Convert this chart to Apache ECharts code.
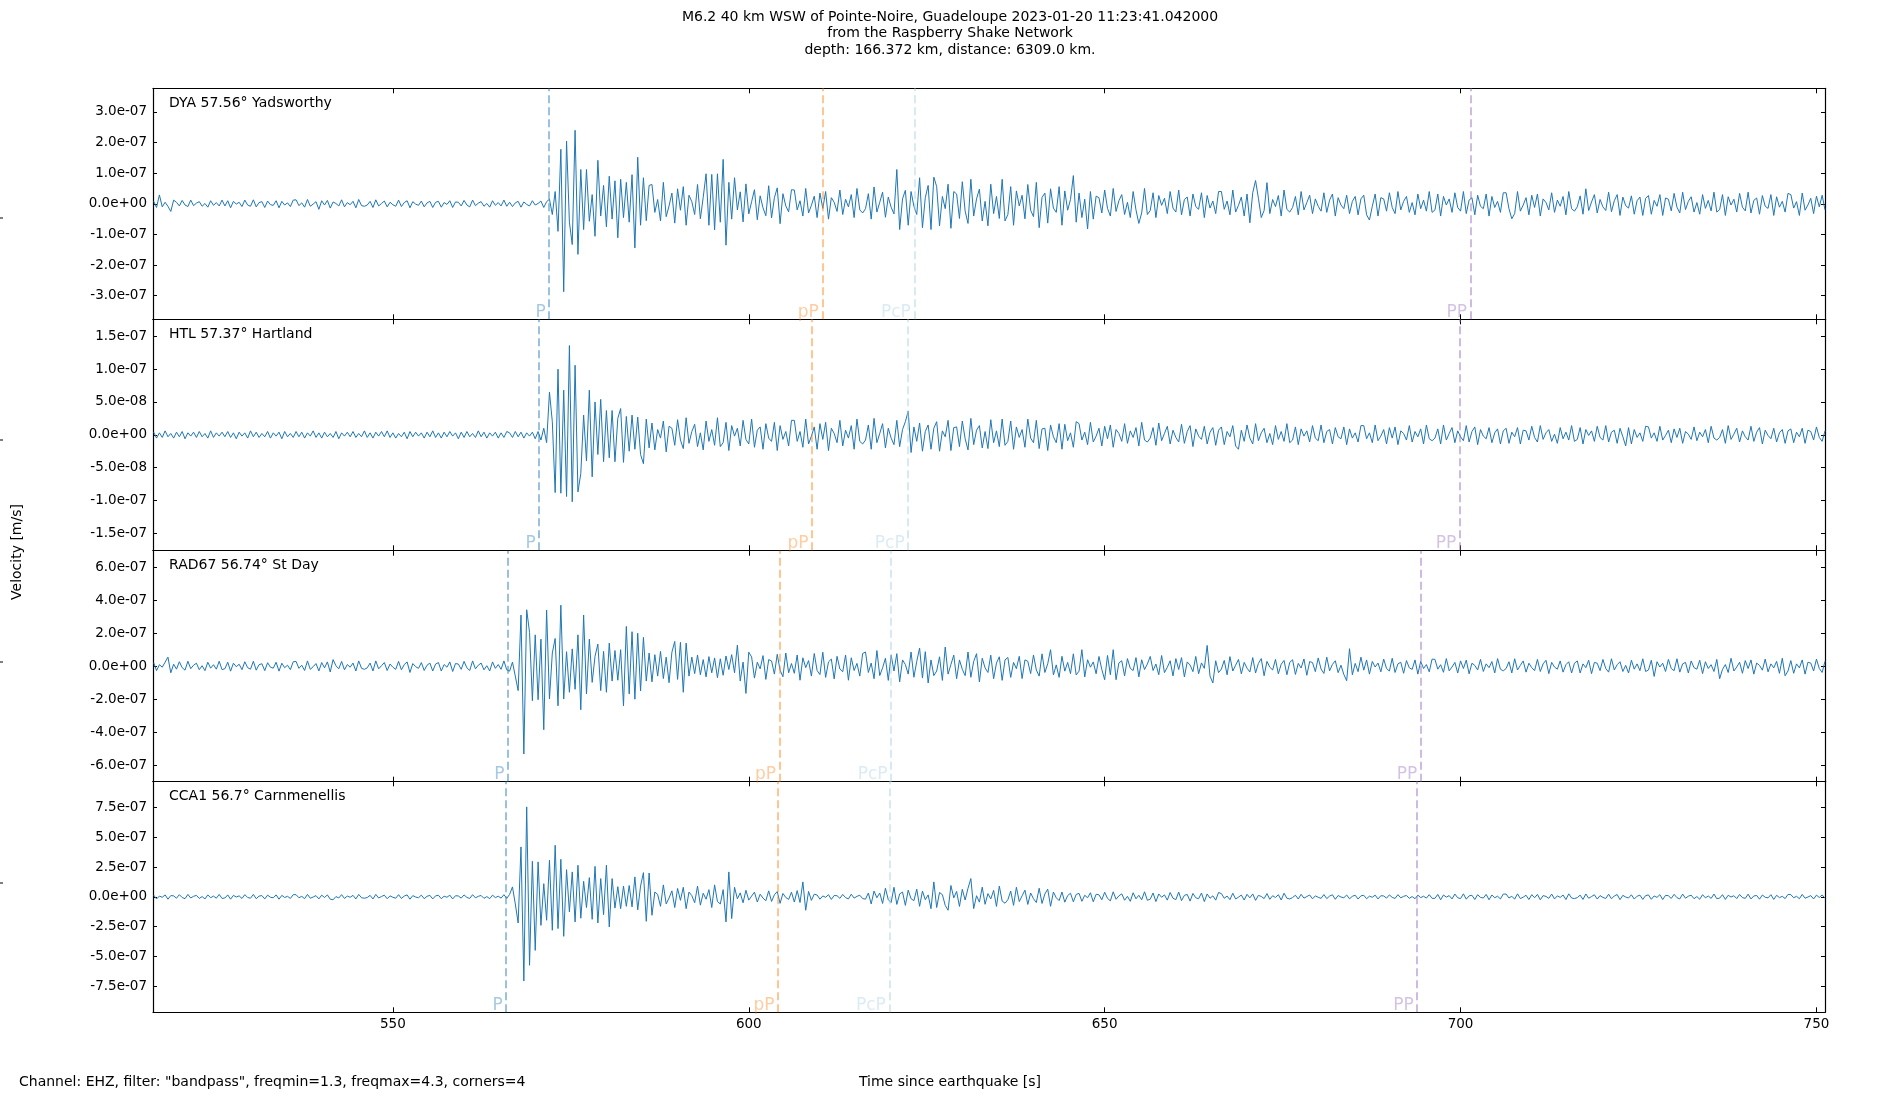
<!DOCTYPE html>
<html>
<head>
<meta charset="utf-8">
<script src="https://cdn.jsdelivr.net/npm/echarts@6/dist/echarts.min.js"></script>
<style>
  html, body { margin: 0; padding: 0; background: #fff; }
  #chart { width: 1900px; height: 1100px; }
</style>
</head>
<body>
<div id="chart"></div>
<script>
'use strict';

// time base of the traces (seconds since the earthquake)
var T0 = 516.4;
var DT = 0.4;
var XMIN = 516.3, XMAX = 751.2;
var xTicks = [550, 600, 650, 700, 750];

var stations = ['DYA 57.56\u00b0 Yadsworthy', 'HTL 57.37\u00b0 Hartland', 'RAD67 56.74\u00b0 St Day', 'CCA1 56.7\u00b0 Carnmenellis'];

// vertical velocity, nm/s, one row = 10 s
var dya = [
  8, -12, 29, -10, 5, -8, -25, 12, 5, -7, 11, -4, -9, 12, -6, 2, 7, -8, 1, -11, 10, -5, 4, -7, 12,
  -7, 10, -13, 8, -1, 5, -9, 12, -4, -8, 13, -10, 4, 7, -12, 9, -3, -5, 10, -13, 8, -4, 3, -9, 12,
  13, -6, 3, -11, 14, -8, -1, 7, -18, 10, -4, 11, -14, 6, 1, -7, 13, -10, 4, -3, 8, -13, 14, -6, -8,
  -4, 8, -12, 13, -7, 1, 9, -10, 5, -3, -8, 12, -9, 4, 10, -13, 7, -1, -5, 9, -10, 3, 8, -12, 5,
  8, -11, 4, -2, 10, -12, 6, 5, -7, 11, -4, -10, 12, -6, 2, 7, -8, 1, -11, 10, -5, 4, -7, 12, -8,
  5, -9, 3, 8, -11, 6, -2, -7, 10, -4, 1, 9, -12, 7, 15, -35, 40, -90, 178, -287, 205, -60, -133, 240, -165,
  112, -84, 112, -57, 30, -106, 142, -40, 60, -75, 90, -50, 75, -111, 80, -45, 70, -60, 95, -144, 152, -70, 85, -55, 60,
  63, -28, 14, -56, 70, -42, -7, 35, -63, 49, -21, 56, -70, 28, 7, -35, 63, -49, 21, 98, -70, 96, -85, 98, -60,
  145, -135, 70, -50, 85, -20, 39, -59, 65, -33, 7, 46, -52, 26, -13, -39, 59, -46, 20, 52, -65, 33, -7, -26, 46,
  45, -20, 10, -40, 50, -30, -5, 25, -45, 35, -15, 40, -50, 20, 5, -25, 45, -35, 15, -10, 30, -45, 50, -20, -30,
  -16, 33, -50, 55, -27, 5, 38, -44, 22, -11, -33, 112, -84, 16, 44, -70, 40, -8, -35, 85, -78, 20, 60, -84, 87,
  56, -72, 24, -16, 64, -80, 40, 32, -48, 72, -24, -64, 80, -40, 16, 48, -56, 8, -72, 64, -32, 24, -48, 80, -56,
  -35, 56, -70, 42, -7, 28, -49, 63, -21, -42, 70, -78, 21, 35, -63, 49, -14, -28, 56, -70, 42, -21, 14, 92, -60,
  35, -45, 15, -82, 40, -50, 25, 20, -30, 45, -15, -40, 50, -25, 10, 30, -35, 5, -45, 40, -20, -64, -30, 50, -35,
  -22, 36, -45, 27, -5, 18, -32, 40, -14, -27, 45, -36, 14, 22, -40, 32, -9, -18, 36, -45, 27, -14, 9, -32, 40,
  40, -18, 9, -36, 45, -27, -5, 22, -40, 32, -62, 36, 76, 18, -45, -22, 69, -32, 14, -9, 27, -40, 45, -18, -27,
  -12, 24, -36, 40, -20, 4, 28, -32, 16, -8, -24, 36, -28, 12, 32, -40, 20, -4, -16, 28, -32, 8, 24, -36, 16,
  28, -36, -53, -8, 32, -40, 20, 16, -24, 36, -12, -32, 40, -20, 8, 24, -28, 4, -36, 32, -16, 12, -24, 40, -28,
  -20, 32, -40, 24, -4, 16, -28, 36, -12, -24, 40, -32, 12, 20, -36, 28, -8, -16, 32, -40, 24, -12, 8, -28, 36,
  36, -16, -49, -32, 40, -24, -4, 20, -36, 28, -12, 32, -40, 16, 4, -20, 36, -28, 12, -8, 24, -36, 40, -16, -24,
  -10, 26, -34, 49, -22, 6, 30, -30, 14, -10, -22, 38, -26, 10, 30, -38, 22, -6, -14, 26, -34, 10, 22, -38, 18,
  27, -34, 11, -8, 30, -38, 19, 15, -23, 34, -11, -30, 38, -19, 8, 23, -27, 4, -34, 30, -15, 11, -23, 38, -27,
  -19, 30, -38, 23, -4, 15, -27, 34, -11, -23, 38, -30, 11, 19, -34, 27, -8, -15, 30, -38, 23, -11, 8, -27, 34,
  30, -14, 7, -38, 35, -21, -4, 18, -32, 25, -10, 28, -20
];

var htl = [
  4, -5, 3, -4, 6, -3, 2, -5, 4, -3, 5, -6, 3, -2, 4, -4, 5, -3, 2, -5, 6, -4, 3, -2, 4,
  -3, 5, -4, 3, -6, 4, -2, 3, -5, 6, -3, 4, -4, 2, -3, 5, -5, 3, -2, 4, -6, 5, -3, 2, -4,
  5, -3, 4, -5, 3, -2, 6, -4, 3, -5, 4, -3, 2, -4, 5, -6, 3, -2, 4, -3, 5, -4, 2, -3, 6,
  -4, 3, -5, 4, -2, 5, -3, 6, -4, 3, -5, 2, -3, 4, -6, 5, -3, 4, -2, 3, -5, 4, -3, 6, -4,
  3, -5, 4, -3, 5, -2, 3, -6, 4, -4, 5, -3, 2, -4, 6, -3, 4, -5, 3, -2, 4, -5, 3, -4, 5,
  3, -4, 5, -3, 4, -5, 3, -2, 4, -6, 5, -8, 10, -12, 65, 20, -88, 100, -89, 68, -94, 136, -102, 106, -87,
  -59, 30, -40, 68, -64, 50, -30, 54, -41, 37, -35, 37, -41, 25, 40, -42, 28, -25, 30, -22, 27, -30, -44, 24, -20,
  18, -23, 8, -5, 21, -26, 13, 10, -16, 23, -8, -21, 26, -13, 5, 16, -18, 3, -23, 21, -10, 8, -16, 26, -18,
  -12, 19, -24, 14, -2, 10, -17, 22, -7, -14, 24, -19, 7, 12, -22, 17, -5, -10, 19, -24, 14, -7, 5, -17, 22,
  22, -10, 5, -19, 24, -14, -2, 12, -22, 17, -7, 19, -24, 10, 2, -12, 22, -17, 7, -5, 14, -22, 24, -10, -14,
  -8, 15, -22, 25, -12, 2, 17, -20, 10, -5, -15, 22, -18, 8, 20, 36, -27, 12, -10, 18, -25, 5, 15, -22, 10,
  20, -25, 6, -3, 22, -24, 11, 12, -18, 21, -6, -23, 25, -15, 7, 14, -20, 5, -21, 23, -12, 6, -18, 24, -16,
  -10, 21, -22, 12, -4, 8, -19, 24, -5, -12, 22, -21, 9, 10, -24, 15, -3, -12, 17, -22, 16, -9, 3, -19, 20,
  17, -8, 4, -15, 19, -11, -2, 10, -17, 13, -6, 15, -19, 8, 2, -10, 17, -13, 6, -4, 11, -17, 19, -8, -11,
  -5, 11, -16, 18, -9, 2, 13, -14, 7, -4, -11, 16, -13, 5, 14, -18, 9, -2, -7, 13, -14, 4, 11, -16, 7,
  12, -15, 5, -3, 14, -17, -22, 7, -10, 15, -5, -14, 17, -9, 3, 10, -12, 2, -15, 14, -7, 5, -10, 17, -12,
  -8, 12, -15, 9, -2, 6, -11, 14, -5, -9, 15, -12, 5, 8, -14, 11, -3, -6, 12, -15, 9, -5, 3, -11, 14,
  14, -6, 3, -12, 15, -9, -2, 8, -14, 11, -5, 12, -15, 6, 2, -8, 14, -11, 5, -3, 9, -14, 15, -6, -9,
  -5, 9, -14, 15, -8, 2, 11, -12, 6, -3, -9, 14, -11, 5, 12, -15, 8, -2, -6, 11, -12, 3, 9, -14, 6,
  10, -13, 4, -3, 11, -14, 7, 6, -8, 13, -4, -11, 14, -7, 3, 8, -10, 1, -13, 11, -6, 4, -8, 14, -10,
  -7, 11, -14, 8, -1, 6, -10, 13, -4, -8, 14, -11, 4, 7, -13, 10, -3, -17, 11, -14, 8, -4, 3, -10, 13,
  12, -5, 3, -10, 13, -8, -1, 7, -12, 9, -4, 10, -13, 5, 1, -7, 12, -9, 4, -3, 8, -12, 13, -5, -8,
  -4, 8, -13, 14, -7, 1, 10, -11, 6, -3, -8, 13, -10, 4, 11, -14, 7, -1, -6, 10, -11, 3, 8, -13, 6,
  9, -12, 4, -3, 10, -13, 7, 5, -8, 12, -4, -10, 6
];

var rad67 = [
  21, -27, 9, -6, 24, 55, -40, 12, -18, 27, -9, -24, 30, -15, 6, 18, -21, 3, -27, 24, -12, 9, -18, 30, -21,
  -15, 24, -30, 18, -3, 12, -21, 27, -9, -18, 30, -24, 9, 15, -27, 21, -6, -12, 24, -30, 18, -9, 6, -21, 27,
  29, -13, 6, -26, 32, -19, -3, 16, -29, 22, -10, 26, -35, 40, 3, -16, 29, -22, 10, -6, 19, -29, 32, -13, -19,
  -10, 19, -29, 32, -16, 3, 22, -26, 13, -6, -19, 29, -22, 10, 26, -38, 16, -3, -13, 22, -26, 6, 19, -29, 13,
  22, -29, 10, -6, 26, -32, 16, 13, -19, 29, -10, -26, 32, -16, 6, 19, -22, 3, -29, 26, -13, 10, -19, 32, -22,
  -30, 25, -60, -148, 310, -532, 342, 205, -209, 190, -203, 164, -385, 340, -199, 80, 168, -240, 370, -199, 88, -158, 105, -140, 190,
  -264, 310, -168, 164, -98, 60, 134, -148, 90, -158, 140, -90, 95, -85, 100, -240, 241, -168, 209, -200, 200, -150, 175, -90, 80,
  -95, 70, -60, 90, -75, 55, -100, 85, 150, -80, 145, -158, 140, -60, 55, -45, 68, -52, 40, -65, 58, -40, 50, -70, 45,
  -55, 62, -20, 70, -40, 128, -90, 25, -165, 85, 56, -72, 24, -16, 64, -80, 40, 32, -48, 72, -24, -64, 80, -40, 16,
  -43, 68, -85, 51, -9, 34, -60, 77, -26, -51, 85, -68, 26, 43, -77, 60, -17, -34, 68, -85, 51, -26, 17, -60, 77,
  86, -38, 19, -76, 95, -57, -10, 48, -86, 67, -29, 76, -95, 38, 10, -48, 86, -67, 29, 110, -72, 88, -102, 38, -57,
  -29, 57, -86, 116, -48, 10, 67, -76, 38, -19, -57, 86, -67, 29, 76, -95, 48, -10, -38, 67, -76, 19, 57, -86, 38,
  53, -68, 23, -15, 60, -75, 38, 30, -45, 68, -23, -60, 75, -38, 15, 100, -53, 8, -68, 60, -30, 23, -45, 75, -53,
  -30, 100, -65, 39, -6, 26, -46, 59, -20, -82, 65, -52, 100, -82, 20, 33, -59, 46, -13, -26, 52, -65, 39, -20, 13,
  59, -26, 13, -52, 65, -39, -7, 33, -59, 46, -20, 52, -65, 26, 7, -33, 59, -46, 20, -13, 126, -60, -102, 33, -39,
  -17, 35, -52, 58, -29, 6, 41, -46, 23, -12, -35, 52, -41, 17, 46, -58, 29, -6, -23, 41, -46, 12, 35, -52, 23,
  39, -50, 17, -11, 44, -55, 28, 22, -33, 50, -17, -44, 55, -28, 11, 33, -39, 6, -50, -88, 106, -52, 17, -33, 55,
  -24, 38, -48, 29, -5, 19, -34, 43, -14, -29, 48, -38, 14, 24, -43, 34, -10, -19, 38, -48, 29, -14, 10, -34, 43,
  41, -18, 9, -37, 46, -28, -5, 23, -41, 32, -14, 37, -46, 18, 5, -23, 41, -32, 14, -9, 28, -41, 46, -18, -28,
  -14, 27, -41, 45, -23, 5, 32, -36, 18, -9, -27, 41, -32, 14, 36, -45, 23, -5, -18, 32, -36, 9, 27, -41, 18,
  32, -41, 14, -9, 36, -45, 23, 18, -27, 41, -14, -36, 45, -23, 9, 27, -32, 5, -41, 36, -18, 14, -27, 45, -32,
  -23, 36, -62, 27, -5, 18, -32, 41, -14, -27, 45, -36, 14, 23, -41, 32, -9, -18, 36, -45, 27, -14, 9, -32, 41,
  -76, -19, 10, -38, 48, -29, -5, 24, -43, 34, -14, 38, -48, 19, 5, -24, 43, -34, 14, -10, 29, -43, 48, -58, -29,
  34, -43, 14, -10, 38, -48, 24, 19, -29, 43, -14, -38, 30
];

var cca1 = [
  14, -18, 6, -4, 16, -20, 10, 8, -12, 18, -6, -16, 20, -10, 4, 12, -14, 2, -18, 16, -8, 6, -12, 20, -14,
  -10, 16, -20, 12, -2, 8, -14, 18, -6, -12, 20, -16, 6, 10, -18, 14, -4, -8, 16, -20, 12, -6, 4, -14, 18,
  18, -8, 4, -16, 20, -12, -2, 10, -18, 14, -6, 16, -20, -25, 2, -10, 18, -14, 6, -4, 12, -18, 20, -8, -12,
  -6, 12, -18, 20, -10, 2, 14, -16, 8, -4, -12, 18, -14, 6, 16, -20, 10, -2, -8, 14, -16, 4, 12, -18, 8,
  13, -16, 5, -4, 14, -18, 9, 7, -11, 16, -5, -14, 18, -9, 4, 11, -13, 2, -16, 14, -7, 5, -11, 18, -13,
  20, 83, -60, -220, 419, -707, 755, -575, 298, -450, 293, -240, 110, -197, 307, -281, 433, -267, 315, -332, 228, -127, 209, -211, 265,
  -180, 130, -90, 161, -189, 256, -220, 153, -150, 265, -253, 153, -95, 85, -100, 90, -80, 95, -85, 167, -110, 90, 203, -206, 200,
  -155, 40, 20, -80, 100, -60, -10, 50, -90, 70, -30, 80, -100, 40, 10, -50, 90, -70, 30, -20, 60, -90, 100, -40, -60,
  60, -211, 209, -183, 80, -17, 33, -50, 55, -28, 6, 39, -44, 22, -11, -33, 50, -39, 17, 44, -55, 28, -6, -22, 39,
  -44, 52, -48, 125, -113, 45, -30, 22, 15, -20, 7, -4, 18, -22, 11, 9, -13, 20, -7, -18, 22, -11, 4, 13, -15,
  -20, 32, -60, 48, -8, 32, -56, 72, -24, -48, 80, -64, 24, 40, -72, 56, -16, -32, 64, -80, 48, -24, 16, -100, 125,
  -90, 36, 18, -72, -113, 95, -9, 45, -81, 63, -27, 72, 153, -99, 9, -45, 81, -63, 27, -18, 54, -81, 90, -36, -54,
  -24, 48, -72, 80, -40, 8, 56, -64, 32, -16, -48, 72, -56, 24, 64, -80, 40, -8, -32, 40, -45, 10, 30, -42, 20,
  29, -38, 13, -8, 34, -42, 21, 17, -25, 38, -13, -34, 42, -21, 8, 25, -29, 4, -38, 34, -17, 13, -25, 42, -29,
  -20, 32, -40, 24, -4, 16, -28, 36, -12, -24, 40, -32, 12, 20, -36, 28, -8, -16, 32, -40, 24, -12, 8, -28, 36,
  27, -12, 6, -24, 30, -18, -3, 15, -27, 21, -9, 24, -30, 12, 3, -15, 27, -21, 9, -6, 18, -27, 30, -12, -18,
  -6, 13, -19, 21, -11, 2, 15, -17, 8, -4, -13, 19, -15, 6, 17, -21, 11, -2, -8, 15, -17, 4, 13, -19, 8,
  13, -16, 5, -4, 14, -18, 9, 7, -11, 16, -5, -14, 18, -9, 4, 11, -13, 2, -16, 14, -7, 5, -11, 18, -13,
  -13, 20, -25, 15, -3, 10, -18, 23, -8, -15, 25, -20, 8, 13, -23, 18, -5, -10, 20, -25, 15, -8, 5, -18, 23,
  23, -10, 5, -20, 25, -15, -3, 13, -23, 18, -8, 20, -25, 10, 3, -13, 23, -18, 8, -5, 15, -23, 25, -10, -15,
  -7, 14, -22, 24, -12, 2, 17, -19, 10, -5, -14, 22, -17, 7, 19, -24, 12, -2, -10, 17, -19, 5, 14, -22, 10,
  16, -21, 7, -5, 18, -23, 12, 9, -14, 21, -7, -18, 23, -12, 5, 14, -16, 2, -21, 18, -9, 7, -14, 23, -16,
  -11, 18, -22, 13, -2, 9, -15, 20, -7, -13, 22, -18, 7, 11, -20, 15, -4, -9, 18, -22, 13, -7, 4, -15, 20,
  18, -8, 4, -16, 20, -12, -2, 10, -18, 14, -6, 16, -12
];

var traces = [dya, htl, rad67, cca1];

// symmetric y limits and tick values, nm/s
var yLimits = [377, 176, 700, 970];
var yTicks = [
  [-300, -200, -100, 0, 100, 200, 300],
  [-150, -100, -50, 0, 50, 100, 150],
  [-600, -400, -200, 0, 200, 400, 600],
  [-750, -500, -250, 0, 250, 500, 750]
];

// predicted arrivals [s]
var phaseNames = ['P', 'pP', 'PcP', 'PP'];
var phaseTimes = [
  [571.96, 610.33, 623.26, 701.4],
  [570.55, 608.9, 622.4, 699.9],
  [566.16, 604.33, 619.99, 694.4],
  [565.92, 604.1, 619.75, 693.9]
];
var phaseLine = ['rgba(31,119,180,0.6)', 'rgba(255,127,14,0.6)', 'rgba(166,206,227,0.6)', 'rgba(148,103,189,0.6)'];
var phaseText = ['rgba(31,119,180,0.5)', 'rgba(255,127,14,0.5)', 'rgba(166,206,227,0.5)', 'rgba(148,103,189,0.5)'];

var FONT = 'DejaVu Sans';
var GRID_LEFT = 153, GRID_WIDTH = 1672, GRID_H = 231;
var gridTops = [88.3, 319.3, 550.7, 781.3];

function sci(v) {
  if (v === 0) return '0.0e+00';
  var s = (v * 1e-9).toExponential(1).split('e');
  var exp = s[1];
  var digits = exp.slice(1);
  if (digits.length < 2) digits = '0' + digits;
  return s[0] + 'e' + exp[0] + digits;
}

var chart = echarts.init(document.getElementById('chart'), null, {renderer: 'canvas'});

var grids = [], xAxes = [], yAxes = [], series = [], graphics = [];
var frame = {show: true, onZero: false, lineStyle: {color: '#000', width: 1.2}};
var font14 = '14px "' + FONT + '"';

for (var k = 0; k < 4; k++) {
  grids.push({left: GRID_LEFT, width: GRID_WIDTH, top: gridTops[k], height: GRID_H});

  ['bottom', 'top'].forEach(function (pos) {
    xAxes.push({
      type: 'value', gridIndex: k, position: pos, min: XMIN, max: XMAX,
      axisLine: frame,
      axisTick: {inside: true, length: 5, customValues: xTicks, lineStyle: {color: '#000', width: 1}},
      axisLabel: {show: pos === 'bottom' && k === 3, customValues: xTicks, margin: 5,
        color: '#000', fontSize: 13.5, fontFamily: FONT},
      splitLine: {show: false}
    });
  });

  ['left', 'right'].forEach(function (pos) {
    yAxes.push({
      type: 'value', gridIndex: k, position: pos, min: -yLimits[k], max: yLimits[k],
      axisLine: frame,
      axisTick: {inside: true, length: 4, customValues: yTicks[k], lineStyle: {color: '#000', width: 1}},
      axisLabel: {show: pos === 'left', customValues: yTicks[k], margin: 6,
        color: '#000', fontSize: 13.5, fontFamily: FONT, formatter: sci},
      splitLine: {show: false}
    });
  });

  series.push({
    type: 'line',
    xAxisIndex: 2 * k,
    yAxisIndex: 2 * k,
    data: traces[k].map(function (v, i) { return [T0 + i * DT, v]; }),
    showSymbol: false,
    symbol: 'none',
    lineStyle: {color: '#1f77b4', width: 1},
    silent: true,
    markLine: {
      silent: true,
      symbol: ['none', 'none'],
      label: {show: false},
      lineStyle: {type: [8, 4], width: 1.5},
      data: phaseTimes[k].map(function (t, j) {
        return {xAxis: t, lineStyle: {color: phaseLine[j], type: [8, 4], width: 1.5}};
      })
    }
  });

  // phase names at the foot of each arrival line
  series.push({
    type: 'scatter',
    xAxisIndex: 2 * k,
    yAxisIndex: 2 * k,
    symbolSize: 1,
    clip: false,
    silent: true,
    itemStyle: {color: 'rgba(0,0,0,0)'},
    label: {show: true, position: 'left', distance: 3, offset: [0, -7],
      formatter: '{b}', fontSize: 17, fontFamily: FONT},
    data: phaseTimes[k].map(function (t, j) {
      return {name: phaseNames[j], value: [t, -yLimits[k]], label: {color: phaseText[j]}};
    })
  });

  graphics.push({
    type: 'text', x: 169, y: gridTops[k] + 15,
    style: {text: stations[k], fill: '#000', font: font14, verticalAlign: 'middle'}
  });
}

graphics.push({
  type: 'text', x: 950, y: 9.5,
  style: {
    text: 'M6.2 40 km WSW of Pointe-Noire, Guadeloupe 2023-01-20 11:23:41.042000\nfrom the Raspberry Shake Network\ndepth: 166.372 km, distance: 6309.0 km.',
    fill: '#000', font: font14, align: 'center', verticalAlign: 'top', lineHeight: 16.2
  }
});
graphics.push({
  type: 'text', x: 19, y: 1082,
  style: {text: 'Channel: EHZ, filter: "bandpass", freqmin=1.3, freqmax=4.3, corners=4',
    fill: '#000', font: font14, verticalAlign: 'middle'}
});
graphics.push({
  type: 'text', x: 950, y: 1082,
  style: {text: 'Time since earthquake [s]', fill: '#000', font: font14,
    align: 'center', verticalAlign: 'middle'}
});
graphics.push({
  type: 'text', x: 17, y: 552, rotation: Math.PI / 2,
  style: {text: 'Velocity [m/s]', fill: '#000', font: font14,
    align: 'center', verticalAlign: 'middle'}
});
// stray ticks of the label axes at the left edge
[218, 440, 662, 883].forEach(function (y) {
  graphics.push({type: 'line', shape: {x1: 0, y1: y, x2: 3, y2: y}, style: {stroke: '#000', lineWidth: 1}});
});

chart.setOption({
  backgroundColor: '#fff',
  animation: false,
  textStyle: {fontFamily: FONT},
  grid: grids,
  xAxis: xAxes,
  yAxis: yAxes,
  series: series,
  graphic: graphics
});
</script>
</body>
</html>
